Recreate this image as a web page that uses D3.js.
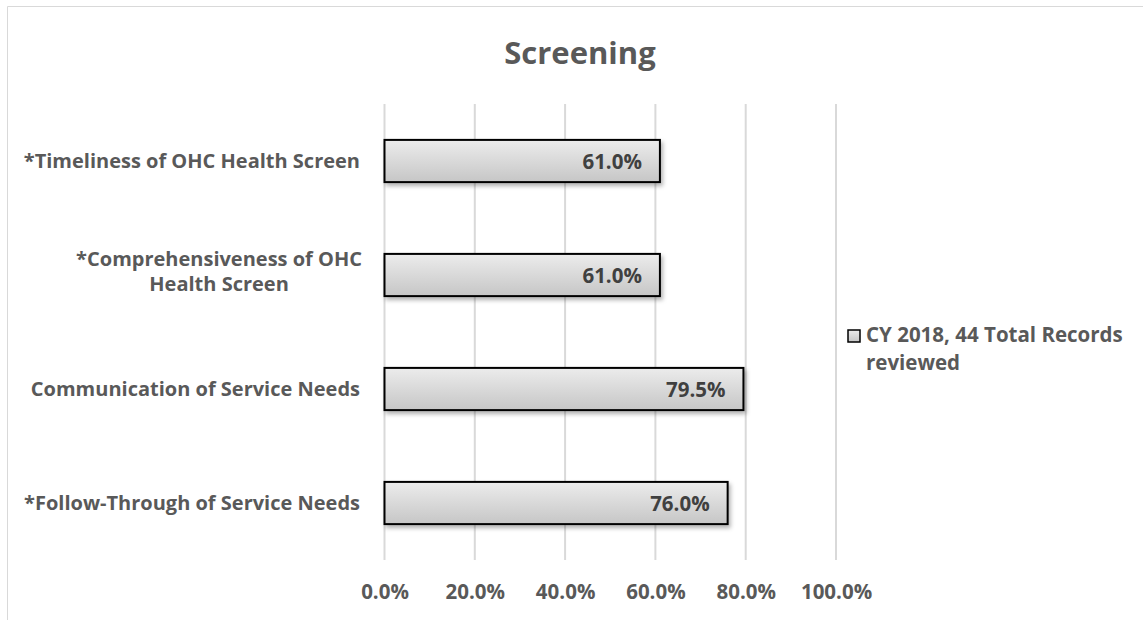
<!DOCTYPE html>
<html>
<head>
<meta charset="utf-8">
<script src="https://cdn.jsdelivr.net/npm/d3@7"></script>
<style>
  body { margin: 0; background: #fff; }
  text { font-family: "Open Sans", sans-serif; font-weight: bold; }
</style>
</head>
<body>
<div id="chart"></div>
<script>
var categories = ["*Timeliness of OHC Health Screen",
                  "*Comprehensiveness of OHC|Health Screen",
                  "Communication of Service Needs",
                  "*Follow-Through of Service Needs"];
var values = [61.0, 61.0, 79.5, 76.0];
var tickValues = [0, 20, 40, 60, 80, 100];
var seriesName = ["CY 2018, 44 Total Records", "reviewed"];
var chartTitle = "Screening";

var W = 1143, H = 620;
var margin = {top: 104, left: 384.5, bottom: 60, right: 307.5};

var svg = d3.select("#chart").append("svg")
    .attr("width", W)
    .attr("height", H);

var defs = svg.append("defs");
var grad = defs.append("linearGradient")
    .attr("id", "barGrad")
    .attr("x1", 0).attr("y1", 0).attr("x2", 0).attr("y2", 1);
grad.append("stop").attr("offset", "0%").attr("stop-color", "#ececec");
grad.append("stop").attr("offset", "100%").attr("stop-color", "#c6c6c6");
var shadow = defs.append("filter").attr("id", "shadow")
    .attr("x", "-5%").attr("y", "-20%").attr("width", "115%").attr("height", "160%");
shadow.append("feDropShadow")
    .attr("dx", 2).attr("dy", 3).attr("stdDeviation", 2)
    .attr("flood-color", "#000").attr("flood-opacity", 0.3);

// chart area border (runs off the right & bottom of the shot)
svg.append("path")
    .attr("d", "M7.5," + (H + 2) + "V6.5H" + (W + 2))
    .attr("fill", "none")
    .attr("stroke", "#d9d9d9")
    .attr("stroke-width", 1);

var x = d3.scaleLinear().domain([0, 100]).range([margin.left, margin.left + 451.5]);
var y = d3.scaleBand().domain(categories).range([margin.top, 560]).paddingInner(0.63).paddingOuter(0.315);

// gridlines
svg.append("g").selectAll("line")
    .data(tickValues)
    .enter().append("line")
    .attr("x1", function(d) { return x(d); })
    .attr("x2", function(d) { return x(d); })
    .attr("y1", margin.top)
    .attr("y2", 560)
    .attr("stroke", "#d9d9d9")
    .attr("stroke-width", 2);

// x axis labels
var xAxis = d3.axisBottom(x)
    .tickValues(tickValues)
    .tickSize(0)
    .tickPadding(0)
    .tickFormat(function(d) { return d3.format(".1f")(d) + "%"; });
var gx = svg.append("g")
    .attr("transform", "translate(0,599)")
    .call(xAxis);
gx.select(".domain").remove();
gx.selectAll("text")
    .attr("dy", 0)
    .attr("font-size", "20.5px")
    .attr("font-family", "'Open Sans', sans-serif")
    .attr("font-weight", "bold")
    .attr("fill", "#595959");

// bars
svg.append("g").selectAll("rect")
    .data(values)
    .enter().append("rect")
    .attr("x", x(0))
    .attr("y", function(d, i) { return y(categories[i]); })
    .attr("width", function(d) { return x(d) - x(0); })
    .attr("height", y.bandwidth())
    .attr("fill", "url(#barGrad)")
    .attr("stroke", "#000")
    .attr("stroke-width", 2)
    .attr("filter", "url(#shadow)");

// value labels
svg.append("g").selectAll("text")
    .data(values)
    .enter().append("text")
    .attr("x", function(d) { return x(d) - 18; })
    .attr("y", function(d, i) { return y(categories[i]) + y.bandwidth() / 2 + 7.5; })
    .attr("text-anchor", "end")
    .attr("font-size", "20.5px")
    .attr("fill", "#404040")
    .text(function(d) { return d3.format(".1f")(d) + "%"; });

// category labels
var catG = svg.append("g");
var labelSize = "20px";
categories.forEach(function(c) {
  var lines = c.split("|");
  var cy = y(c) + y.bandwidth() / 2;
  var t = catG.append("text")
      .attr("font-size", labelSize)
      .attr("fill", "#595959");
  if (lines.length === 1) {
    t.attr("x", 360).attr("y", cy + 7).attr("text-anchor", "end").text(c);
  } else {
    // wrapped label: lines centred on each other, right edge at 362
    var tmp = svg.append("text").attr("font-size", labelSize).text(lines[0]);
    var w0 = tmp.node().getComputedTextLength();
    tmp.remove();
    var mid = 362 - w0 / 2;
    lines.forEach(function(l, k) {
      t.append("tspan")
        .attr("x", mid)
        .attr("y", cy - 4 + (k - 0.5) * 25 + 7)
        .attr("text-anchor", "middle")
        .text(l);
    });
  }
});

// title
svg.append("text")
    .attr("x", 580)
    .attr("y", 64)
    .attr("text-anchor", "middle")
    .attr("font-size", "31px")
    .attr("fill", "#595959")
    .text(chartTitle);

// legend
var lg = svg.append("g").attr("transform", "translate(848,330)");
lg.append("rect")
    .attr("x", 0).attr("y", 0).attr("width", 12).attr("height", 12)
    .attr("fill", "url(#barGrad)")
    .attr("stroke", "#000")
    .attr("stroke-width", 1.5);
lg.selectAll("text.leg")
    .data(seriesName)
    .enter().append("text")
    .attr("class", "leg")
    .attr("x", 18)
    .attr("y", function(d, i) { return 12 + i * 28; })
    .attr("font-size", "20.5px")
    .attr("fill", "#595959")
    .text(function(d) { return d; });
</script>
</body>
</html>
